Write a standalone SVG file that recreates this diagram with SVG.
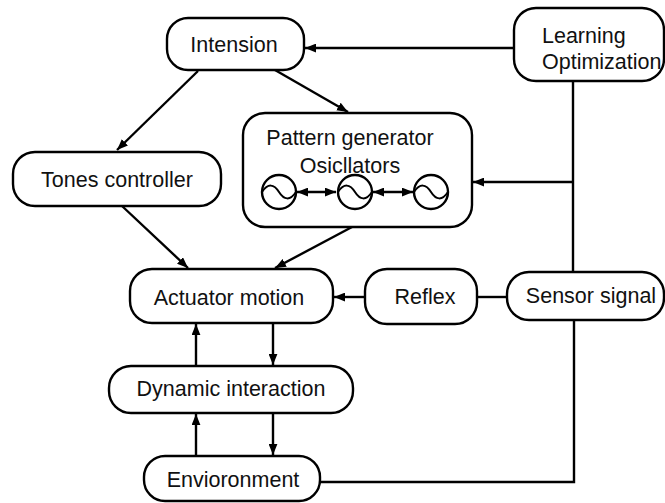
<svg xmlns="http://www.w3.org/2000/svg" width="665" height="503" viewBox="0 0 665 503">
<style>
.box{fill:#fff;stroke:#000;stroke-width:2.4}
.t{font-family:"Liberation Sans",Arial,sans-serif;font-size:21.5px;fill:#111;text-anchor:middle}
.c{fill:none;stroke:#000;stroke-width:2.4}
.osc{fill:#fff;stroke:#000;stroke-width:2.4}
</style>
<defs>
<marker id="ah" viewBox="0 0 10 8" refX="10" refY="4" markerWidth="11" markerHeight="9" orient="auto-start-reverse" markerUnits="userSpaceOnUse">
<path d="M0,0 L10,4 L0,8 z" fill="#000"/>
</marker>
<g id="wave"><circle class="osc" cx="0" cy="0" r="17"/><path d="M-17,0 C-11,-9 -5,-8 0,0 S11,9 17,0" fill="none" stroke="#000" stroke-width="2"/></g>
</defs>
<rect width="665" height="503" fill="#fff"/>
<g id="connectors">
<path class="c" d="M514,48 L305,48" marker-end="url(#ah)"/>
<path class="c" d="M198,71 L117,150" marker-end="url(#ah)"/>
<path class="c" d="M275,70 L348,112" marker-end="url(#ah)"/>
<path class="c" d="M573,81 L573,272"/>
<path class="c" d="M573,182 L473,182" marker-end="url(#ah)"/>
<path class="c" d="M122,206 L188,268" marker-end="url(#ah)"/>
<path class="c" d="M352,227 L275,268" marker-end="url(#ah)"/>
<path class="c" d="M365,297 L334,297" marker-end="url(#ah)"/>
<path class="c" d="M477,297 L507,297"/>
<path class="c" d="M574,320 L574,482 L320,482"/>
<path class="c" d="M273,323 L273,365" marker-end="url(#ah)"/>
<path class="c" d="M196,366 L196,324" marker-end="url(#ah)"/>
<path class="c" d="M196,456 L196,414" marker-end="url(#ah)"/>
<path class="c" d="M273,413 L273,455" marker-end="url(#ah)"/>
</g>
<g id="intension">
<rect class="box" x="167" y="18" width="137" height="52" rx="21"/>
<text class="t" x="234" y="52">Intension</text>
</g>
<g id="learning">
<rect class="box" x="514" y="8" width="150" height="73" rx="22"/>
<text class="t" x="542" y="43" style="text-anchor:start">Learning</text>
<text class="t" x="542" y="69" style="text-anchor:start">Optimization</text>
</g>
<g id="pattern">
<rect class="box" x="243" y="113" width="229" height="114" rx="22"/>
<text class="t" x="350" y="145">Pattern generator</text>
<text class="t" x="350" y="173">Osicllators</text>
<path class="c" d="M297,192 L336,192" marker-start="url(#ah)" marker-end="url(#ah)"/>
<path class="c" d="M373,192 L413,192" marker-start="url(#ah)" marker-end="url(#ah)"/>
<use href="#wave" x="279" y="192"/>
<use href="#wave" x="355" y="192"/>
<use href="#wave" x="431" y="192"/>
</g>
<g id="tones">
<rect class="box" x="13" y="152" width="208" height="54" rx="22"/>
<text class="t" x="117" y="187">Tones controller</text>
</g>
<g id="actuator">
<rect class="box" x="130" y="269" width="203" height="54" rx="22"/>
<text class="t" x="229" y="305">Actuator motion</text>
</g>
<g id="reflex">
<rect class="box" x="365" y="269" width="112" height="55" rx="22"/>
<text class="t" x="425" y="304">Reflex</text>
</g>
<g id="sensor">
<rect class="box" x="507" y="272" width="157" height="48" rx="22"/>
<text class="t" x="591" y="303">Sensor signal</text>
</g>
<g id="dynamic">
<rect class="box" x="109" y="366" width="244" height="47" rx="22"/>
<text class="t" x="231" y="396">Dynamic interaction</text>
</g>
<g id="environment">
<rect class="box" x="144" y="456" width="176" height="45" rx="21"/>
<text class="t" x="233" y="487">Envioronment</text>
</g>
</svg>
